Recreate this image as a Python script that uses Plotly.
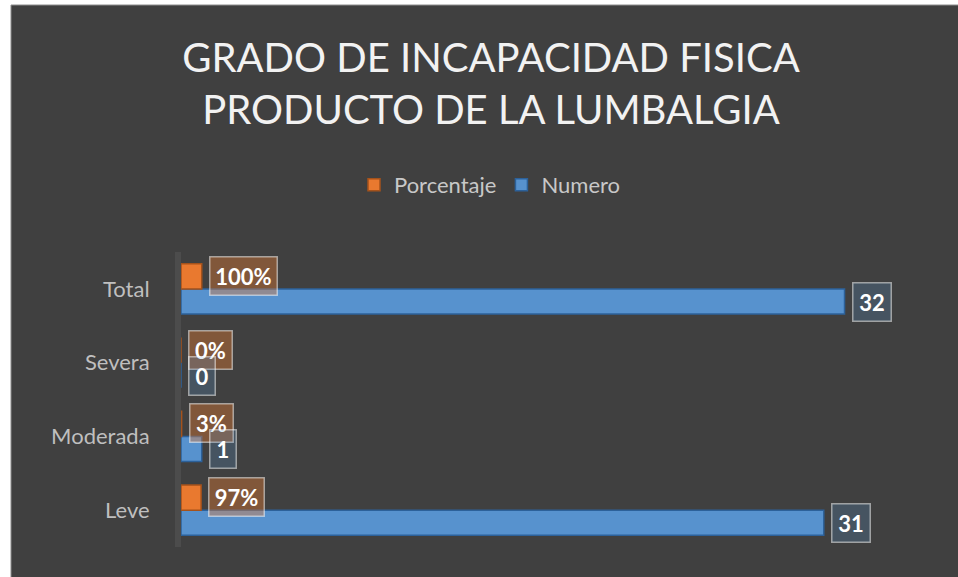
import plotly.graph_objects as go

categories = ["Leve", "Moderada", "Severa", "Total"]
numero = [31, 1, 0, 32]
porcentaje = [0.97, 0.03, 0.0, 1.00]
numero_labels = ["31", "1", "0", "32"]
porcentaje_labels = ["97%", "3%", "0%", "100%"]

BG = "#404040"
BLUE = "#5792CE"
BLUE_EDGE = "#2C619A"
ORANGE = "#E9792F"
ORANGE_EDGE = "#A5521B"
FONT = "Lato"

L, R, T, B = 181, 72, 252, 30
W, H = 958, 577
pw, ph = W - L - R, H - T - B

fig = go.Figure()
fig.add_trace(go.Bar(
    y=categories, x=numero, orientation="h", name="Numero",
    marker=dict(color=BLUE, line=dict(color=BLUE_EDGE, width=1.5)),
    hoverinfo="skip",
))
fig.add_trace(go.Bar(
    y=categories, x=porcentaje, orientation="h", name="Porcentaje",
    marker=dict(color=ORANGE, line=dict(color=ORANGE_EDGE, width=1.5)),
    hoverinfo="skip",
))

def box_width(s):
    w = 16
    for ch in s:
        w += 17 if ch == "%" else 12
    return w

pad, bw = 3, 1.5
BOX_H = 31
annotations = []
for cat, v, lab in zip(categories, porcentaje, porcentaje_labels):
    annotations.append(dict(
        x=v, y=cat, xref="x", yref="y", text="<b>%s</b>" % lab, showarrow=False,
        xanchor="left", yanchor="middle", xshift=7, yshift=13,
        font=dict(family=FONT, size=22, color="#ffffff"),
        bgcolor="rgba(237,125,49,0.38)", bordercolor="rgba(255,255,255,0.5)",
        borderwidth=bw, borderpad=pad, width=box_width(lab) - 2 * pad - 2 * bw,
        height=BOX_H, align="center", valign="middle",
    ))
for cat, v, lab in zip(categories, numero, numero_labels):
    annotations.append(dict(
        x=v, y=cat, xref="x", yref="y", text="<b>%s</b>" % lab, showarrow=False,
        xanchor="left", yanchor="middle", xshift=7, yshift=-13,
        font=dict(family=FONT, size=22, color="#ffffff"),
        bgcolor="rgba(91,155,213,0.22)", bordercolor="rgba(255,255,255,0.5)",
        borderwidth=bw, borderpad=pad, width=box_width(lab) - 2 * pad - 2 * bw,
        height=BOX_H, align="center", valign="middle",
    ))

# chart background frame (px -> paper)
def px_x(p):
    return (p - L) / pw

def px_y(p):
    return (H - B - p) / ph

shapes = [dict(
    type="rect", xref="paper", yref="paper", layer="below",
    x0=px_x(11), x1=px_x(W + 5), y0=px_y(H + 5), y1=px_y(5),
    fillcolor=BG, line=dict(color="#8c8c8c", width=1),
)]

fig.update_layout(
    width=W, height=H,
    margin=dict(l=L, r=R, t=T, b=B),
    paper_bgcolor="#ffffff", plot_bgcolor="rgba(0,0,0,0)",
    barmode="group", bargap=0.32, bargroupgap=0,
    title=dict(
        text="GRADO DE INCAPACIDAD FISICA<br>PRODUCTO DE LA LUMBALGIA",
        x=491 / W, xanchor="center", y=1 - 72 / H, yanchor="middle",
        font=dict(family=FONT, size=40, color="#f2f2f2", weight=400),
    ),
    legend=dict(
        orientation="h", traceorder="reversed",
        x=px_x(490), xanchor="center", y=px_y(185), yanchor="middle",
        font=dict(family=FONT, size=22, color="#c8c8c8"),
        bgcolor="rgba(0,0,0,0)",
    ),
    xaxis=dict(range=[0, 34], showgrid=False, zeroline=False, showticklabels=False,
               showline=False, fixedrange=True),
    yaxis=dict(categoryorder="array", categoryarray=categories,
               showgrid=False, zeroline=False, showline=True,
               linecolor="#4c4c4c", linewidth=6,
               ticks="", ticklabelstandoff=21,
               tickfont=dict(family=FONT, size=22, color="#bfbfbf")),
    annotations=annotations, shapes=shapes,
    showlegend=True,
)

fig.write_html("out.html", config={"displayModeBar": False},
               post_script="document.body.style.margin='0';")
